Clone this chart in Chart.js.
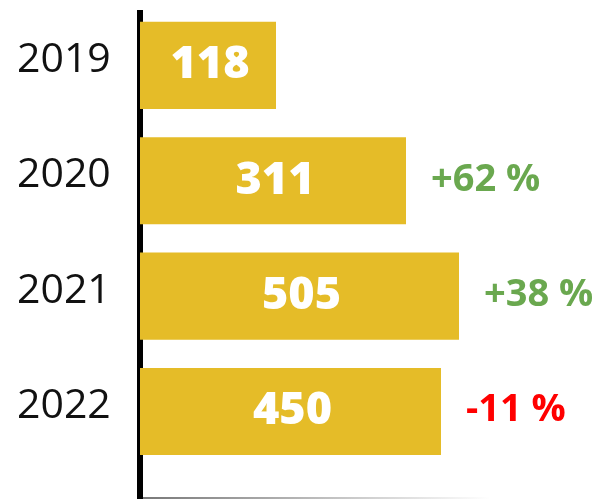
<!DOCTYPE html>
<html>
<head>
<meta charset="utf-8">
<script src="https://cdn.jsdelivr.net/npm/chart.js@4/dist/chart.umd.min.js"></script>
<style>
  html, body { margin: 0; padding: 0; background: #ffffff; }
  #wrap { width: 600px; height: 499px; position: relative; }
</style>
</head>
<body>
<div id="wrap"><canvas id="c"></canvas></div>
<script>
// ---- data ----
const years = ['2019', '2020', '2021', '2022'];
const values = [118, 311, 505, 450];            // numbers printed in the bars
const changes = [null, 62, 38, -11];            // % change printed to the right
const barLengths = [136, 266, 319, 301];        // drawn bar lengths (chart units, axis 0..460)

const BAR_COLOR = '#E5BC28';
const UP_COLOR = '#6AA84F';
const DOWN_COLOR = '#FF0000';

const labelPlugin = {
  id: 'barLabels',
  afterDatasetsDraw(chart) {
    const ctx = chart.ctx;
    const meta = chart.getDatasetMeta(0);
    ctx.save();
    ctx.textBaseline = 'middle';
    meta.data.forEach((bar, i) => {
      ctx.fillStyle = '#ffffff';
      ctx.textAlign = 'center';
      ctx.font = '800 45px "Open Sans"';
      ctx.fillText(String(values[i]), (bar.x + bar.base) / 2 + 2, bar.y);
      const ch = changes[i];
      if (ch !== null && ch !== undefined) {
        ctx.fillStyle = ch >= 0 ? UP_COLOR : DOWN_COLOR;
        ctx.textAlign = 'left';
        ctx.font = '700 38px "Open Sans"';
        const txt = (ch >= 0 ? '+' : '') + ch + ' %';
        ctx.fillText(txt, bar.x + 25, bar.y - 1);
      }
    });
    ctx.restore();
  }
};

new Chart(document.getElementById('c'), {
  type: 'bar',
  data: {
    datasets: [{
      data: barLengths.map((v, i) => ({ x: v, y: i })),
      backgroundColor: BAR_COLOR,
      borderWidth: 0,
      barPercentage: 0.755,
      categoryPercentage: 1
    }]
  },
  options: {
    indexAxis: 'y',
    responsive: true,
    maintainAspectRatio: false,
    animation: false,
    layout: { padding: { left: 17, right: 0, top: 13, bottom: 1 } },
    plugins: { legend: { display: false }, tooltip: { enabled: false } },
    scales: {
      x: {
        type: 'linear',
        min: 0,
        max: 460,
        grid: { display: false, drawTicks: false },
        ticks: { display: false },
        border: {
          display: true,
          width: 2,
          color: (c) => {
            const ca = c.chart.chartArea;
            if (!ca) return '#999';
            const g = c.chart.ctx.createLinearGradient(ca.left, 0, ca.left + 350, 0);
            g.addColorStop(0, '#777777');
            g.addColorStop(1, '#ffffff');
            return g;
          }
        }
      },
      y: {
        type: 'linear',
        reverse: true,
        offset: false,
        min: -0.454,
        max: 3.75,
        z: 1,
        grid: { display: false, drawTicks: false, offset: false },
        border: { display: true, color: '#000000', width: 6 },
        afterBuildTicks: (scale) => { scale.ticks = years.map((_, i) => ({ value: i })); },
        afterFit: (scale) => { scale.width = 123; scale.paddingTop = 0; scale.paddingBottom = 0; },
        ticks: {
          crossAlign: 'far',
          labelOffset: -5,
          color: '#111111',
          font: { family: '"Open Sans"', size: 41, weight: '400' },
          callback: (v) => years[v] !== undefined ? years[v] : ''
        }
      }
    }
  },
  plugins: [labelPlugin]
});
</script>
</body>
</html>
